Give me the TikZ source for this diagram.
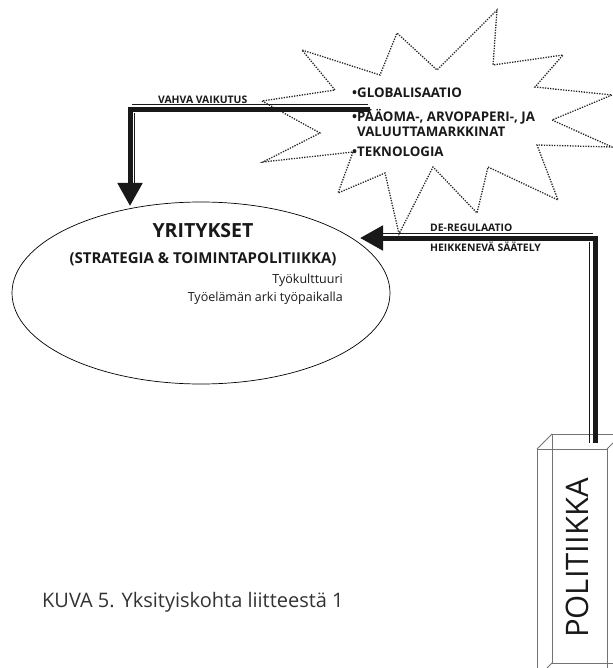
\documentclass[tikz,border=0pt]{standalone}
\usepackage{fontspec}
\setmainfont{Open Sans}
\usepackage{tikz}
\usetikzlibrary{positioning,arrows.meta,shapes.geometric}

\begin{document}
\begin{tikzpicture}[x=1pt,y=-1pt]

\tikzstyle{every node}=[inner sep=0pt, text=black!90]
\tikzstyle{thinline}=[line width=1.2pt, black!90]
\tikzstyle{thickline}=[line width=5pt, black!90]
\tikzstyle{bigarrow}=[thickline, -{Triangle[length=23pt,width=24pt]}]
\tikzstyle{boxline}=[line width=0.8pt, black!55]
\tikzstyle{burst}=[line width=1.3pt, dash pattern=on 1.3pt off 1.3pt, black!85]
\tikzstyle{arrowlabel}=[font=\bfseries\fontsize{10.4}{12}\selectfont, anchor=west]
\tikzstyle{item}=[font=\bfseries\fontsize{13.3}{15}\selectfont, anchor=west, align=left]

\useasboundingbox (0,0) rectangle (612,668);

% nodes %
\node[ellipse, draw, line width=0.7pt, minimum width=378pt, minimum height=182pt] (yrit) at (201,293) {};
\node[font=\bfseries\fontsize{19.5}{22}\selectfont] (ytitle) at (203,231) {YRITYKSET};
\node[font=\bfseries\fontsize{15}{17}\selectfont] (ysub) at (203,259) {(STRATEGIA \& TOIMINTAPOLITIIKKA)};
\node[font=\fontsize{12.5}{14}\selectfont, anchor=east] (kult) at (343,280) {Työkulttuuri};
\node[font=\fontsize{12.5}{14}\selectfont, anchor=east] (arki) at (343,298) {Työelämän arki työpaikalla};

\node[item] (glob) at (352,93) {•GLOBALISAATIO};
\node[item] (paaoma) at (352,122.5) {•PÄÄOMA-, ARVOPAPERI-, JA\\\phantom{•}VALUUTTAMARKKINAT};
\node[item] (tekno) at (352,152) {•TEKNOLOGIA};

\node[arrowlabel] (vahva) at (158,100) {VAHVA VAIKUTUS};
\node[arrowlabel] (dereg) at (430,228) {DE-REGULAATIO};
\node[arrowlabel] (heikk) at (430,247) {HEIKKENEVÄ SÄÄTELY};

\node[font=\fontsize{31}{33}\selectfont, rotate=90] (polit) at (577,558) {POLITIIKKA};
\node[font=\fontsize{20}{22}\selectfont, anchor=west, text=black!80] (kuva) at (42,602) {KUVA 5. Yksityiskohta liitteestä 1};

% starburst %
\draw[burst] (262,101) -- (320,133) -- (263,162) -- (353,152) -- (338,193) -- (385,173)
  -- (399,234) -- (433,167) -- (477,213) -- (488,167) -- (558,200) -- (537,145)
  -- (612,147) -- (552,120) -- (612,95) -- (535,87) -- (563,55) -- (493,65)
  -- (497,10) -- (437,70) -- (397,33) -- (380,75) -- (302,50) -- (335,90) -- cycle;

% box %
\draw[boxline] (537,449) rectangle (607,678);
\draw[boxline] (552,434) rectangle (622,663);
\draw[boxline] (537,449) -- (552,434) (607,449) -- (622,434)
  (537,678) -- (552,663) (607,678) -- (622,663);

% edges %
\coordinate (vstart) at (370,110);
\coordinate (vtip) at (130,206);
\coordinate (dstart) at (595,443);
\coordinate (dtip) at (360,238);

\draw[bigarrow] (vstart) -| (vtip);
\draw[thinline] (368,104.8) -- (132,104.8);
\draw[thinline] (134.5,113) -- (134.5,183);

\draw[bigarrow] (dstart) |- (dtip);
\draw[thinline] (383,233.5) -- (593,233.5);
\draw[thinline] (589.5,241.5) -- (589.5,443);

\end{tikzpicture}
\end{document}
